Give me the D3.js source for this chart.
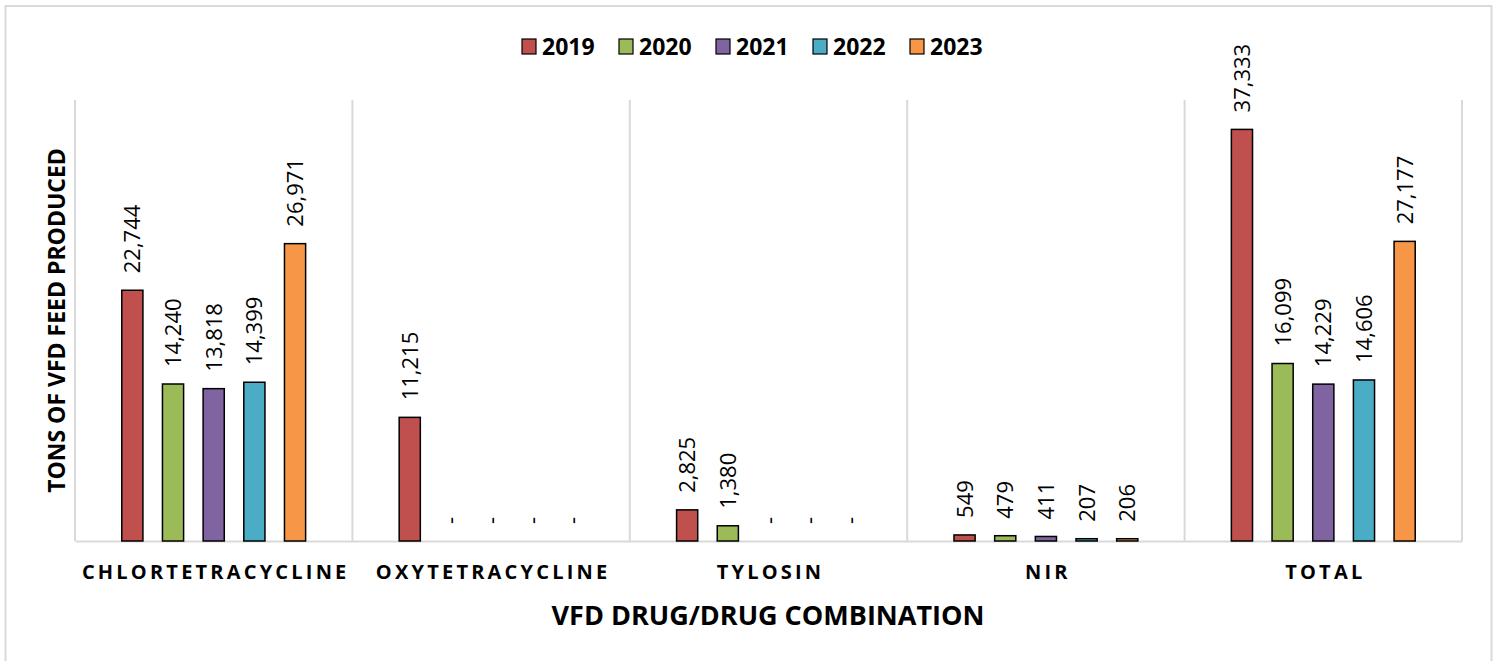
<!DOCTYPE html>
<html>
<head>
<meta charset="utf-8">
<script src="https://cdn.jsdelivr.net/npm/d3@7"></script>
<style>
  body { margin: 0; background: #fff; }
  svg { display: block; font-family: "Open Sans", Lato, sans-serif; }
</style>
</head>
<body>
<script>
// data
const categories = ["CHLORTETRACYCLINE", "OXYTETRACYCLINE", "TYLOSIN", "NIR", "TOTAL"];
const years = ["2019", "2020", "2021", "2022", "2023"];
const values2019 = [22744, 11215, 2825, 549, 37333];
const values2020 = [14240, 0, 1380, 479, 16099];
const values2021 = [13818, 0, 0, 411, 14229];
const values2022 = [14399, 0, 0, 207, 14606];
const values2023 = [26971, 0, 0, 206, 27177];
const yearColors = ["#c0504d", "#9bbb59", "#8064a2", "#4bacc6", "#f79646"];

const series = [values2019, values2020, values2021, values2022, values2023];

const width = 1499;
const height = 661;
const margin = {top: 100, right: 37, bottom: 120, left: 75};

const svg = d3.select("body")
      .append("svg")
      .attr("width", width)
      .attr("height", height);

// outer border of the chart area
svg.append("rect")
      .attr("x", 5.5)
      .attr("y", 6)
      .attr("width", 1486)
      .attr("height", 700)
      .attr("fill", "none")
      .attr("stroke", "#d9d9d9")
      .attr("stroke-width", 2);

const xScale = d3.scaleBand()
      .domain(categories)
      .range([margin.left, width - margin.right])
      .padding(0);

const xInner = d3.scaleBand()
      .domain(years)
      .range([0, xScale.bandwidth()])
      .paddingInner(0.48)
      .paddingOuter(1.15);

const yScale = d3.scaleLinear()
      .domain([0, 40000])
      .range([height - margin.bottom, margin.top]);

// vertical separators between categories
const bounds = categories.map(c => xScale(c)).concat([xScale.range()[1]]);
svg.append("g")
      .selectAll("line")
      .data(bounds)
      .enter()
      .append("line")
      .attr("x1", d => d)
      .attr("x2", d => d)
      .attr("y1", yScale(40000))
      .attr("y2", yScale(0))
      .attr("stroke", "#d9d9d9")
      .attr("stroke-width", 2);

// x axis (baseline + category labels)
const xAxis = svg.append("g")
      .attr("transform", `translate(0, ${yScale(0)})`)
      .call(d3.axisBottom(xScale).tickSize(0));
xAxis.select(".domain")
      .attr("stroke", "#d9d9d9")
      .attr("stroke-width", 2);
xAxis.selectAll(".tick text")
      .attr("fill", "#000")
      .attr("y", 38)
      .attr("dy", 0)
      .attr("dx", 2)
      .style("font-size", "20px")
      .style("font-weight", "bold")
      .style("letter-spacing", "3.2px")
      .style("font-family", "'Open Sans', Lato, sans-serif");

// bars
const rows = [];
categories.forEach((c, i) => {
      years.forEach((y, j) => {
            rows.push({category: c, year: y, value: series[j][i], color: yearColors[j]});
      });
});

svg.append("g")
      .selectAll("rect")
      .data(rows.filter(d => d.value > 0))
      .enter()
      .append("rect")
      .attr("x", d => xScale(d.category) + xInner(d.year))
      .attr("y", d => yScale(d.value))
      .attr("width", xInner.bandwidth())
      .attr("height", d => yScale(0) - yScale(d.value))
      .attr("fill", d => d.color)
      .attr("stroke", "#000")
      .attr("stroke-width", 1.5);

// data labels, rotated
const fmt = d3.format(",");
svg.append("g")
      .selectAll("text")
      .data(rows)
      .enter()
      .append("text")
      .attr("transform", d => {
            const cx = xScale(d.category) + xInner(d.year) + xInner.bandwidth() / 2;
            return `translate(${cx + 8}, ${yScale(d.value) - 17}) rotate(-90)`;
      })
      .attr("font-size", 22)
      .attr("fill", "#000")
      .text(d => d.value === 0 ? "-" : fmt(d.value));

// legend
const legend = svg.append("g")
      .attr("transform", "translate(522, 46)");
const item = legend.selectAll("g")
      .data(years)
      .enter()
      .append("g")
      .attr("transform", (d, i) => `translate(${i * 97}, 0)`);
item.append("rect")
      .attr("x", 0)
      .attr("y", -7)
      .attr("width", 14)
      .attr("height", 15)
      .attr("fill", (d, i) => yearColors[i])
      .attr("stroke", "#000")
      .attr("stroke-width", 1.2);
item.append("text")
      .attr("x", 20)
      .attr("y", 9)
      .attr("font-size", 23)
      .attr("font-weight", "bold")
      .text(d => d);

// axis titles
svg.append("text")
      .attr("transform", `translate(65, ${(yScale(0) + yScale(40000)) / 2}) rotate(-90)`)
      .attr("text-anchor", "middle")
      .attr("font-size", 23)
      .attr("font-weight", "bold")
      .text("TONS OF VFD FEED PRODUCED");

svg.append("text")
      .attr("x", 768)
      .attr("y", 625)
      .attr("text-anchor", "middle")
      .attr("font-size", 27)
      .attr("font-weight", "bold")
      .text("VFD DRUG/DRUG COMBINATION");
</script>
</body>
</html>
